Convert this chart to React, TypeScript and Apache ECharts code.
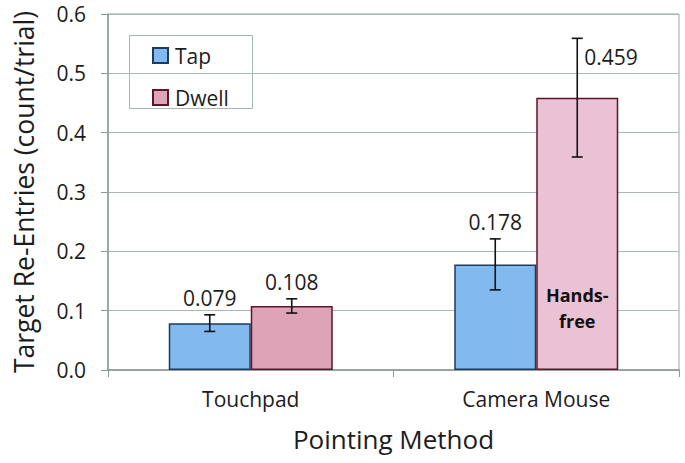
import React, { useEffect, useRef } from "react";
import * as echarts from "echarts";

const categories = ["Touchpad", "Camera Mouse"];
const seriesNames = ["Tap", "Dwell"];
const tapValues = [0.079, 0.178];
const dwellValues = [0.108, 0.459];
const tapErrors = [0.014, 0.043];
const dwellErrors = [0.012, 0.1];
const tapLabelPlacement = ["top", "top"];
const dwellLabelPlacement = ["top", "right"];
const yTicks = [0, 0.1, 0.2, 0.3, 0.4, 0.5, 0.6];
const annotationText = "Hands-\nfree";
const annotationPoint = [1, 0.105];

const FONT = "'Open Sans', 'Noto Sans', sans-serif";
const TEXT = "#1c1c1c";
const BAR_W = 82;

export default function App() {
  const ref = useRef<HTMLDivElement>(null);
  useEffect(() => {
    if (!ref.current) return;
    const chart = echarts.init(ref.current, null, { renderer: "svg" });

    const errData: any[] = [];
    tapValues.forEach((v, i) =>
      errData.push([i, v, tapErrors[i], 0, tapLabelPlacement[i]])
    );
    dwellValues.forEach((v, i) =>
      errData.push([i, v, dwellErrors[i], 1, dwellLabelPlacement[i]])
    );

    const option: any = {
      animation: false,
      textStyle: { fontFamily: FONT },
      grid: {
        left: 108,
        right: 6,
        top: 14,
        bottom: 93,
        show: true,
        borderColor: "#9aa6a6",
        borderWidth: 1,
      },
      legend: {
        orient: "vertical",
        left: 152,
        top: 45,
        itemGap: 21,
        itemWidth: 15,
        itemHeight: 15,
        padding: 0,
        icon: "rect",
        textStyle: { fontSize: 21, color: TEXT, fontFamily: FONT, padding: [0, 0, 0, 2] },
        data: seriesNames,
      },
      graphic: [
        {
          type: "rect",
          left: 129,
          top: 35,
          shape: { width: 123, height: 73 },
          style: { fill: "#fff", stroke: "#a9b4b4", lineWidth: 1 },
          z: 0,
        },
      ],
      xAxis: {
        type: "category",
        data: categories,
        name: "Pointing Method",
        nameLocation: "middle",
        nameGap: 56,
        nameTextStyle: { fontSize: 26, color: TEXT, fontFamily: FONT },
        axisLine: { lineStyle: { color: "#8c9898", width: 1.5 } },
        axisTick: { show: true, length: 7, lineStyle: { color: "#8c9898" } },
        axisLabel: { fontSize: 21, color: TEXT, margin: 18, fontFamily: FONT },
      },
      yAxis: {
        type: "value",
        min: 0,
        max: 0.6,
        interval: 0.1,
        name: "Target Re-Entries (count/trial)",
        nameLocation: "middle",
        nameGap: 71,
        nameTextStyle: { fontSize: 26.5, color: TEXT, fontFamily: FONT },
        axisLine: { show: true, lineStyle: { color: "#8c9898", width: 1.5 } },
        axisTick: { show: true, length: 7, lineStyle: { color: "#8c9898" } },
        axisLabel: {
          fontSize: 21,
          color: TEXT,
          margin: 22,
          fontFamily: FONT,
          formatter: (v: number) => (yTicks.includes(Math.round(v * 10) / 10) ? v.toFixed(1) : ""),
        },
        splitLine: { show: true, lineStyle: { color: "#a9b8b6", width: 1 } },
      },
      series: [
        {
          name: seriesNames[0],
          type: "bar",
          barWidth: BAR_W,
          barGap: "0%",
          data: tapValues,
          itemStyle: { color: "#82b9ee", borderColor: "#1f3a60", borderWidth: 1.5 },
          z: 2,
        },
        {
          name: seriesNames[1],
          type: "bar",
          barWidth: BAR_W,
          barGap: "0%",
          data: dwellValues.map((v, i) =>
            i === 1 ? { value: v, itemStyle: { color: "#ebc1d4" } } : v
          ),
          itemStyle: { color: "#dfa3b7", borderColor: "#5c1628", borderWidth: 1.5 },
          z: 2,
        },
        {
          type: "custom",
          name: "errors",
          data: errData,
          z: 5,
          silent: true,
          renderItem: (params: any, api: any) => {
            const cat = api.value(0);
            const val = api.value(1);
            const err = api.value(2);
            const s = api.value(3);
            const placement = errData[params.dataIndex][4];
            const off = s === 0 ? -BAR_W / 2 : BAR_W / 2;
            const top = api.coord([cat, val + err]);
            const bot = api.coord([cat, val - err]);
            const x = top[0] + off;
            const cap = 5.5;
            const ls = { stroke: "#111", lineWidth: 1.6 };
            const label =
              placement === "right"
                ? {
                    type: "text",
                    x: x + 7,
                    y: top[1] + 19,
                    style: {
                      text: val.toFixed(3),
                      fill: TEXT,
                      font: `21px ${FONT}`,
                      align: "left",
                      verticalAlign: "middle",
                    },
                  }
                : {
                    type: "text",
                    x: x,
                    y: top[1] - 6,
                    style: {
                      text: val.toFixed(3),
                      fill: TEXT,
                      font: `21px ${FONT}`,
                      align: "center",
                      verticalAlign: "bottom",
                    },
                  };
            return {
              type: "group",
              children: [
                { type: "line", shape: { x1: x, y1: top[1], x2: x, y2: bot[1] }, style: ls },
                { type: "line", shape: { x1: x - cap, y1: top[1], x2: x + cap, y2: top[1] }, style: ls },
                { type: "line", shape: { x1: x - cap, y1: bot[1], x2: x + cap, y2: bot[1] }, style: ls },
                label,
              ],
            };
          },
        },
        {
          type: "custom",
          name: "annotation",
          data: [annotationPoint],
          z: 6,
          silent: true,
          renderItem: (params: any, api: any) => {
            const p = api.coord([api.value(0), api.value(1)]);
            return {
              type: "text",
              x: p[0] + BAR_W / 2,
              y: p[1],
              style: {
                text: annotationText,
                fill: "#111",
                font: `bold 18px ${FONT}`,
                align: "center",
                verticalAlign: "middle",
                lineHeight: 26,
              },
            };
          },
        },
      ],
    };
    chart.setOption(option);
    return () => chart.dispose();
  }, []);
  return <div ref={ref} style={{ width: 685, height: 463, position: "absolute", left: 0, top: 0 }} />;
}
